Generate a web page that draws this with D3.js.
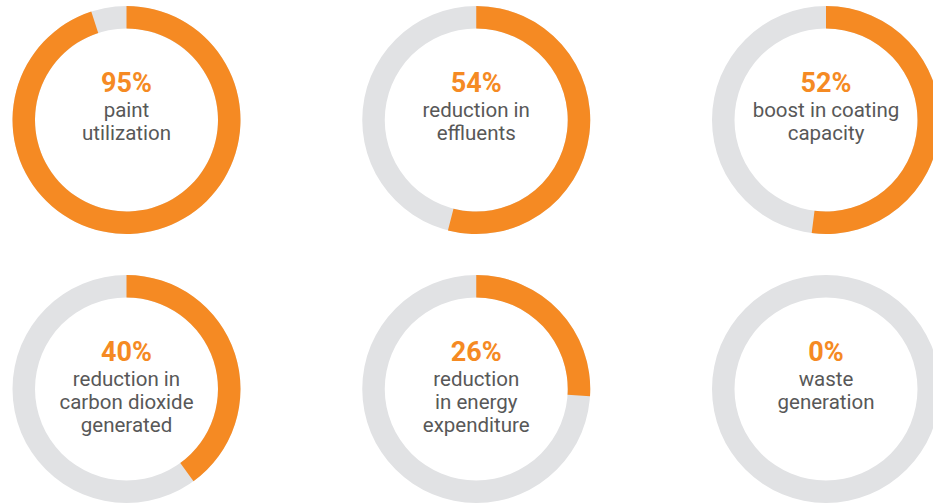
<!DOCTYPE html>
<html>
<head>
<meta charset="utf-8">
<script src="https://cdn.jsdelivr.net/npm/d3@7"></script>
<style>
  body { margin: 0; background: #fff; }
  svg { display: block; }
</style>
</head>
<body>
<svg id="chart"></svg>
<script>
const values = [95, 54, 52, 40, 26, 0];
const labels = [
  ['paint', 'utilization'],
  ['reduction in', 'effluents'],
  ['boost in coating', 'capacity'],
  ['reduction in', 'carbon dioxide', 'generated'],
  ['reduction', 'in energy', 'expenditure'],
  ['waste', 'generation']
];

const width = 933;
const height = 504;
const outer = 114;
const inner = 91.5;
const cols = 3;

const svg = d3.select('#chart')
  .attr('width', width)
  .attr('height', height);

const cx = d3.scalePoint()
  .domain([0, 1, 2])
  .range([126.5, 826]);

const cy = d3.scalePoint()
  .domain([0, 1])
  .range([120, 389]);

const angle = d3.scaleLinear()
  .domain([0, 100])
  .range([0, 2 * Math.PI]);

const arc = d3.arc()
  .innerRadius(inner)
  .outerRadius(outer)
  .startAngle(0);

const cells = svg.selectAll('g.donut')
  .data(values)
  .join('g')
  .attr('class', 'donut')
  .attr('transform', (d, i) => `translate(${cx(i % cols)},${cy(Math.floor(i / cols))})`);

cells.append('path')
  .style('fill', '#e1e2e4')
  .attr('d', arc.endAngle(angle(100)));

cells.append('path')
  .style('fill', '#f58a23')
  .attr('d', d => arc.endAngle(angle(d))());

cells.append('text')
  .attr('text-anchor', 'middle')
  .attr('y', -28)
  .style('font-family', 'Roboto, sans-serif')
  .style('font-weight', 700)
  .style('font-size', '27px')
  .style('fill', '#f58a23')
  .text(d => d + '%');

cells.each(function(d, i){
  d3.select(this).selectAll('text.lbl')
    .data(labels[i])
    .join('text')
    .attr('class', 'lbl')
    .attr('text-anchor', 'middle')
    .attr('y', (t, j) => -3 + j * 23)
    .style('font-family', 'Roboto, sans-serif')
    .style('font-size', '20.5px')
    .style('fill', '#585858')
    .text(t => t);
});
</script>
</body>
</html>
